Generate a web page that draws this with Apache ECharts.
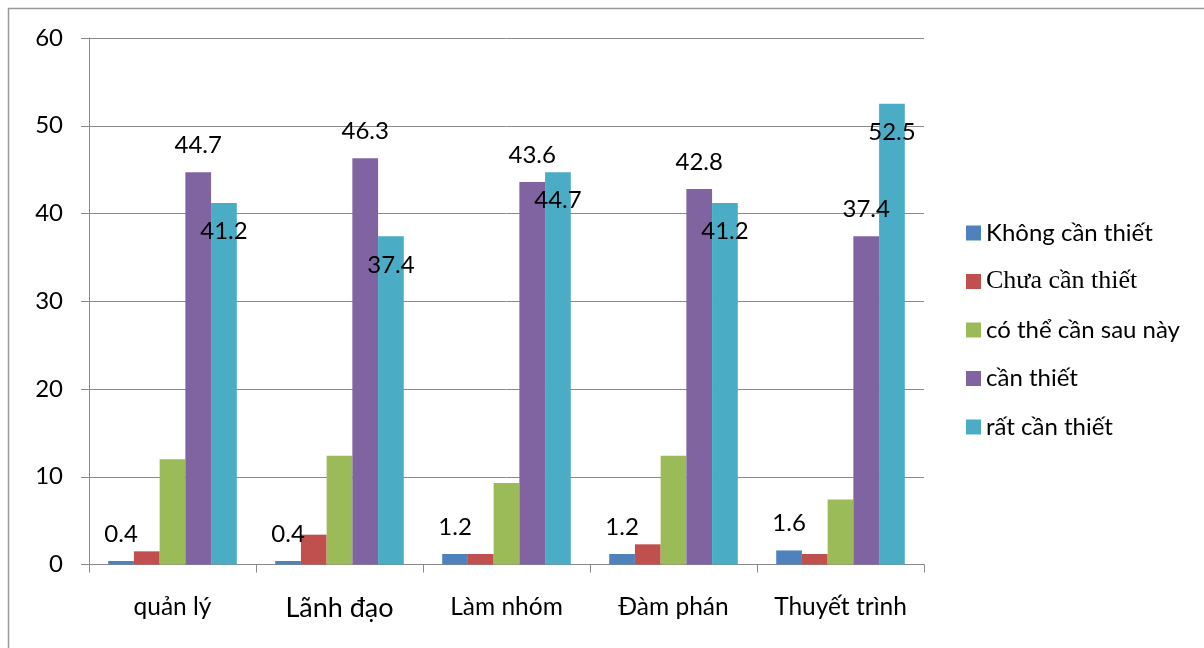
<!DOCTYPE html>
<html>
<head>
<meta charset="utf-8">
<script src="https://cdn.jsdelivr.net/npm/echarts@6/dist/echarts.min.js"></script>
<style>html,body{margin:0;padding:0;background:#fff;}#c{width:1204px;height:648px;}</style>
</head>
<body>
<div id="c"></div>
<script>
var categories = ['quản lý', 'Lãnh đạo', 'Làm nhóm', 'Đàm phán', 'Thuyết trình'];
var seriesNames = ['Không cần thiết', 'Chưa cần thiết', 'có thể cần sau này', 'cần thiết', 'rất cần thiết'];
var khongCanThiet = [0.4, 0.4, 1.2, 1.2, 1.6];
var chuaCanThiet = [1.5, 3.4, 1.2, 2.3, 1.2];
var coTheCanSauNay = [12.0, 12.4, 9.3, 12.4, 7.4];
var canThiet = [44.7, 46.3, 43.6, 42.8, 37.4];
var ratCanThiet = [41.2, 37.4, 44.7, 41.2, 52.5];
var yTicks = [0, 10, 20, 30, 40, 50, 60];

var colors = ['#4F81BD', '#C0504D', '#9BBB59', '#8064A2', '#4BACC6'];
var FONT = 'Lato';
var labelText = {fontFamily: FONT, fontSize: 24, color: '#000'};

function mk(name, data, color, label) {
  var s = {
    name: name, type: 'bar', data: data, barGap: 0, barCategoryGap: '23%',
    itemStyle: {color: color},
    emphasis: {disabled: true}
  };
  if (label) s.label = Object.assign({show: true}, labelText, label);
  return s;
}

var chart = echarts.init(document.getElementById('c'));
chart.setOption({
  animation: false,
  color: colors,
  graphic: [{
    type: 'rect', silent: true, z: -1,
    shape: {x: 8.5, y: 8.5, width: 1300, height: 800},
    style: {fill: 'none', stroke: '#999', lineWidth: 1.5}
  }],
  grid: {left: 89, right: 280, top: 38, bottom: 83.5, containLabel: false},
  legend: {
    orient: 'vertical', left: 966, top: 220, padding: 0,
    itemWidth: 15, itemHeight: 15, itemGap: 22.5,
    icon: 'rect',
    data: seriesNames,
    formatter: function (n) { return n === 'Chưa cần thiết' ? '{s|' + n + '}' : n; },
    textStyle: {fontFamily: FONT, fontSize: 24, color: '#000', lineHeight: 26,
      rich: {s: {fontFamily: 'Liberation Serif', fontSize: 26, lineHeight: 26, color: '#000'}}}
  },
  xAxis: {
    type: 'category', data: categories,
    axisLine: {lineStyle: {color: '#898989', width: 1}},
    axisTick: {show: true, length: 8, lineStyle: {color: '#898989'}},
    axisLabel: {
      fontFamily: FONT, fontSize: 24.5, color: '#000', margin: 30, interval: 0,
      formatter: function (v) { return v === 'Lãnh đạo' ? '{b|' + v + '}' : v; },
      rich: {b: {fontFamily: FONT, fontSize: 27, color: '#000'}}
    }
  },
  yAxis: {
    type: 'value', min: 0, max: 60, interval: 10,
    axisLine: {show: true, lineStyle: {color: '#898989', width: 1}},
    axisTick: {show: true, length: 8, lineStyle: {color: '#898989'}},
    splitLine: {lineStyle: {color: '#898989', width: 1}},
    axisLabel: {fontFamily: FONT, fontSize: 24, color: '#000', margin: 26,
      formatter: function (v) { return yTicks.indexOf(v) >= 0 ? String(v) : ''; }}
  },
  series: [
    mk(seriesNames[0], khongCanThiet, colors[0], {position: 'top', distance: 15}),
    mk(seriesNames[1], chuaCanThiet, colors[1]),
    mk(seriesNames[2], coTheCanSauNay, colors[2]),
    mk(seriesNames[3], canThiet, colors[3], {position: 'top', distance: 15}),
    mk(seriesNames[4], ratCanThiet, colors[4], {position: 'insideTop', distance: 16.5})
  ]
});
</script>
</body>
</html>
